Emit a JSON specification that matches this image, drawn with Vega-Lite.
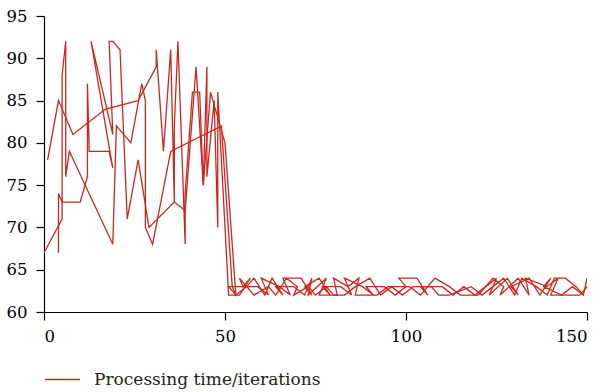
{
  "$schema": "https://vega.github.io/schema/vega-lite/v6.json",
  "width": 543,
  "height": 296,
  "autosize": "none",
  "padding": {"left": 44, "top": 16, "right": 15, "bottom": 80},
  "background": "white",
  "config": {
    "font": "DejaVu Serif",
    "view": {"stroke": null},
    "axis": {"grid": false, "domainColor": "#000", "tickColor": "#000", "labelColor": "#000", "labelFont": "DejaVu Serif", "labelFontSize": 16.5, "tickSize": 8, "labelPadding": 9, "title": null, "domainWidth": 1.2, "tickWidth": 1.2},
    "legend": {"labelFont": "DejaVu Serif", "labelLimit": 500}
  },
  "data": {"values": [
    {"r":"A","x":1,"y":78},{"r":"A","x":4,"y":85},{"r":"A","x":8,"y":81},{"r":"A","x":17,"y":84},{"r":"A","x":26,"y":85},{"r":"A","x":31,"y":89},{"r":"A","x":31,"y":91},{"r":"A","x":33,"y":79},{"r":"A","x":35,"y":91},{"r":"A","x":36,"y":73},{"r":"A","x":36,"y":82},{"r":"A","x":37,"y":92},{"r":"A","x":39,"y":68},{"r":"A","x":39,"y":74},{"r":"A","x":41,"y":86},{"r":"A","x":43,"y":86},{"r":"A","x":44,"y":75},{"r":"A","x":45,"y":89},{"r":"A","x":45,"y":76},{"r":"A","x":47,"y":85},{"r":"A","x":48,"y":70},{"r":"A","x":48,"y":86},{"r":"A","x":51,"y":62},
    {"r":"A","x":54,"y":62},{"r":"A","x":57,"y":64},{"r":"A","x":55,"y":63},{"r":"A","x":59,"y":63},{"r":"A","x":62,"y":62},{"r":"A","x":60,"y":64},{"r":"A","x":65,"y":63},{"r":"A","x":68,"y":62},{"r":"A","x":66,"y":64},{"r":"A","x":71,"y":64},{"r":"A","x":74,"y":62},{"r":"A","x":72,"y":63},{"r":"A","x":76,"y":64},{"r":"A","x":79,"y":62},{"r":"A","x":77,"y":63},{"r":"A","x":82,"y":63},{"r":"A","x":85,"y":62},{"r":"A","x":83,"y":64},{"r":"A","x":88,"y":63},{"r":"A","x":91,"y":62},{"r":"A","x":89,"y":63},{"r":"A","x":94,"y":63},{"r":"A","x":97,"y":62},{"r":"A","x":100,"y":63},{"r":"A","x":98,"y":64},{"r":"A","x":103,"y":64},{"r":"A","x":106,"y":62},{"r":"A","x":104,"y":63},{"r":"A","x":110,"y":63},{"r":"A","x":113,"y":62},{"r":"A","x":116,"y":63},{"r":"A","x":119,"y":62},{"r":"A","x":122,"y":63},{"r":"A","x":125,"y":64},{"r":"A","x":123,"y":62},{"r":"A","x":128,"y":64},{"r":"A","x":131,"y":62},{"r":"A","x":129,"y":63},{"r":"A","x":134,"y":64},{"r":"A","x":137,"y":62},{"r":"A","x":140,"y":64},{"r":"A","x":138,"y":63},{"r":"A","x":143,"y":62},{"r":"A","x":146,"y":63},{"r":"A","x":149,"y":62},{"r":"A","x":150,"y":64},
    {"r":"B","x":0,"y":67},{"r":"B","x":5,"y":71},{"r":"B","x":5,"y":88},{"r":"B","x":6,"y":92},{"r":"B","x":6,"y":76},{"r":"B","x":7,"y":79},{"r":"B","x":19,"y":68},{"r":"B","x":20,"y":82},{"r":"B","x":24,"y":80},{"r":"B","x":27,"y":87},{"r":"B","x":28,"y":85},{"r":"B","x":28,"y":70},{"r":"B","x":30,"y":68},{"r":"B","x":35,"y":79},{"r":"B","x":49,"y":82},{"r":"B","x":52,"y":63},
    {"r":"B","x":53,"y":62},{"r":"B","x":56,"y":63},{"r":"B","x":58,"y":64},{"r":"B","x":61,"y":62},{"r":"B","x":63,"y":64},{"r":"B","x":66,"y":62},{"r":"B","x":64,"y":63},{"r":"B","x":69,"y":63},{"r":"B","x":72,"y":62},{"r":"B","x":74,"y":64},{"r":"B","x":73,"y":62},{"r":"B","x":78,"y":64},{"r":"B","x":76,"y":62},{"r":"B","x":81,"y":62},{"r":"B","x":80,"y":64},{"r":"B","x":84,"y":63},{"r":"B","x":87,"y":64},{"r":"B","x":86,"y":62},{"r":"B","x":92,"y":62},{"r":"B","x":95,"y":63},{"r":"B","x":101,"y":63},{"r":"B","x":104,"y":62},{"r":"B","x":108,"y":64},{"r":"B","x":112,"y":63},{"r":"B","x":115,"y":62},{"r":"B","x":120,"y":62},{"r":"B","x":124,"y":64},{"r":"B","x":127,"y":63},{"r":"B","x":126,"y":62},{"r":"B","x":131,"y":64},{"r":"B","x":134,"y":62},{"r":"B","x":133,"y":64},{"r":"B","x":139,"y":63},{"r":"B","x":142,"y":64},{"r":"B","x":140,"y":62},{"r":"B","x":145,"y":62},{"r":"B","x":148,"y":62},{"r":"B","x":150,"y":63},
    {"r":"C","x":4,"y":67},{"r":"C","x":4,"y":74},{"r":"C","x":5,"y":73},{"r":"C","x":10,"y":73},{"r":"C","x":12,"y":76},{"r":"C","x":12,"y":87},{"r":"C","x":12.5,"y":79},{"r":"C","x":18,"y":79},{"r":"C","x":19,"y":77},{"r":"C","x":13,"y":92},{"r":"C","x":19,"y":81},{"r":"C","x":18,"y":92},{"r":"C","x":19,"y":92},{"r":"C","x":21,"y":91},{"r":"C","x":23,"y":71},{"r":"C","x":26,"y":78},{"r":"C","x":29,"y":70},{"r":"C","x":36,"y":73},{"r":"C","x":39,"y":72},{"r":"C","x":42,"y":89},{"r":"C","x":44,"y":75},{"r":"C","x":46,"y":86},{"r":"C","x":50,"y":80},{"r":"C","x":53,"y":62},
    {"r":"C","x":51,"y":63},{"r":"C","x":55,"y":63},{"r":"C","x":54,"y":64},{"r":"C","x":58,"y":62},{"r":"C","x":62,"y":63},{"r":"C","x":64,"y":62},{"r":"C","x":67,"y":64},{"r":"C","x":70,"y":63},{"r":"C","x":69,"y":62},{"r":"C","x":73,"y":63},{"r":"C","x":75,"y":62},{"r":"C","x":78,"y":63},{"r":"C","x":80,"y":62},{"r":"C","x":83,"y":62},{"r":"C","x":86,"y":63},{"r":"C","x":90,"y":64},{"r":"C","x":93,"y":62},{"r":"C","x":96,"y":63},{"r":"C","x":99,"y":62},{"r":"C","x":102,"y":63},{"r":"C","x":107,"y":63},{"r":"C","x":109,"y":62},{"r":"C","x":112,"y":62},{"r":"C","x":118,"y":63},{"r":"C","x":121,"y":62},{"r":"C","x":124,"y":63},{"r":"C","x":127,"y":64},{"r":"C","x":130,"y":62},{"r":"C","x":132,"y":64},{"r":"C","x":136,"y":63},{"r":"C","x":139,"y":62},{"r":"C","x":141,"y":64},{"r":"C","x":144,"y":64},{"r":"C","x":147,"y":63},{"r":"C","x":149,"y":62}
  ]},
  "mark": {"type": "line", "strokeWidth": 1.3, "clip": true},
  "encoding": {
    "x": {"field": "x", "type": "quantitative", "scale": {"domain": [0, 150], "nice": false}, "axis": {"values": [0, 50, 100, 150], "labelPadding": 8}},
    "y": {"field": "y", "type": "quantitative", "scale": {"domain": [60, 95], "nice": false, "zero": false}, "axis": {"values": [60, 65, 70, 75, 80, 85, 90, 95], "labelPadding": 9}},
    "detail": {"field": "r"},
    "order": {"value": null},
    "color": {"datum": "Processing time/iterations", "type": "nominal", "scale": {"range": ["#c8281e"]},
      "legend": {"title": null, "orient": "none", "legendX": 0, "legendY": 345, "symbolType": "stroke", "symbolSize": 1225, "symbolStrokeWidth": 1.3, "labelFont": "DejaVu Serif", "labelFontSize": 17, "labelColor": "#222", "labelOffset": 13, "labelLimit": 500, "padding": 0}}
  }
}
